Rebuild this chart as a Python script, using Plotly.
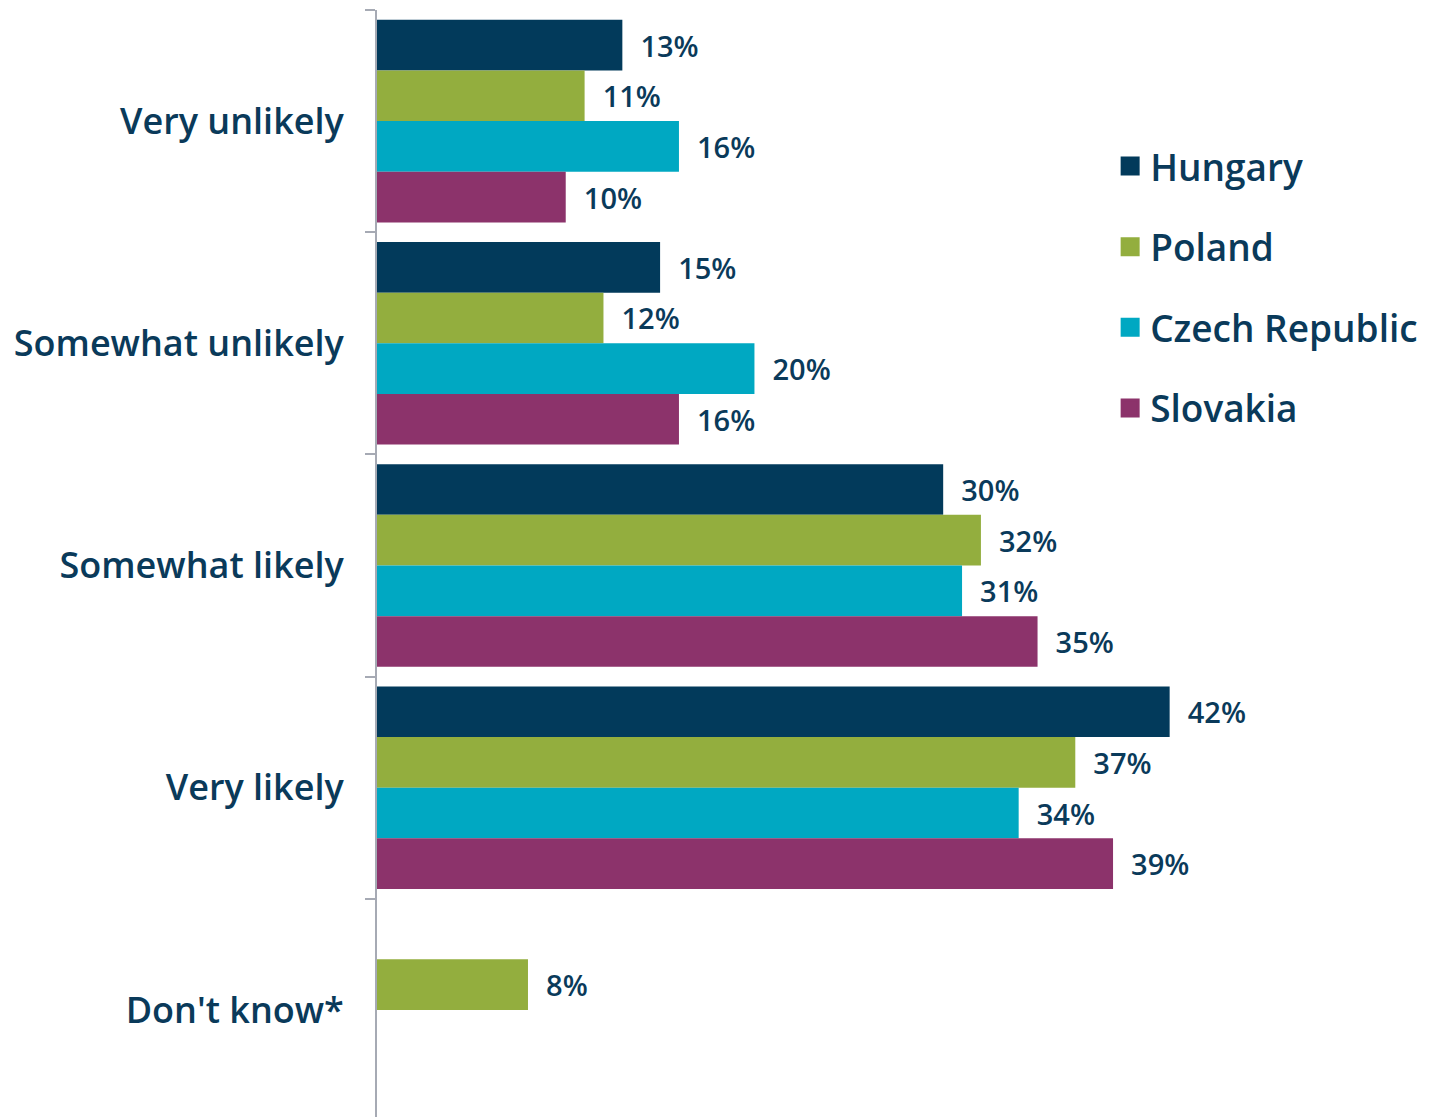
import plotly.graph_objects as go

categories = ["Very unlikely", "Somewhat unlikely", "Somewhat likely", "Very likely", "Don't know*"]
series_names = ["Hungary", "Poland", "Czech Republic", "Slovakia"]
hungary = [13, 15, 30, 42, None]
poland = [11, 12, 32, 37, 8]
czech = [16, 20, 31, 34, None]
slovakia = [10, 16, 35, 39, None]
colors = ["#023a5b", "#93ae3e", "#00a8c2", "#8c336b"]

TEXT = "#0a3a5a"
FONT = "Open Sans"

fig = go.Figure()
for name, vals, col in zip(series_names, [hungary, poland, czech, slovakia], colors):
    fig.add_trace(go.Bar(
        y=categories, x=vals, name=name, orientation="h",
        marker=dict(color=col, line=dict(width=0)),
        text=[None if v is None else f"\u00a0\u00a0{v}%" for v in vals],
        textposition="outside", cliponaxis=False,
        textfont=dict(family=FONT, size=29, color=TEXT, weight=600),
        showlegend=False,
    ))
# legend entries with larger square swatches
for name, col in zip(series_names, colors):
    fig.add_trace(go.Scatter(
        x=[None], y=[None], mode="markers", name=name,
        marker=dict(symbol="square", size=20, color=col, line=dict(width=3, color=col)),
        legendgroup=name, showlegend=True,
    ))

fig.update_layout(
    width=1430, height=1117,
    margin=dict(l=369, r=23, t=2, b=4),
    plot_bgcolor="white", paper_bgcolor="white",
    barmode="group", bargap=0.088, bargroupgap=0,
    showlegend=True,
    legend=dict(
        x=0.7063, y=0.887, xanchor="left", yanchor="top",
        font=dict(family=FONT, size=37, color=TEXT, weight=600),
        tracegroupgap=29.5, traceorder="grouped",
        bgcolor="rgba(0,0,0,0)",
    ),
    xaxis=dict(range=[0, 55], visible=False, fixedrange=True, automargin=False),
    yaxis=dict(
        autorange="reversed", automargin=False,
        showline=True, linecolor="#a6aab4", linewidth=2,
        ticks="outside", tickson="boundaries", ticklen=10, tickcolor="#a6aab4", tickwidth=2,
        tickfont=dict(family=FONT, size=36, color=TEXT, weight=600),
        ticklabelstandoff=24,
        showgrid=False,
    ),
)

fig.write_html("out.html")
